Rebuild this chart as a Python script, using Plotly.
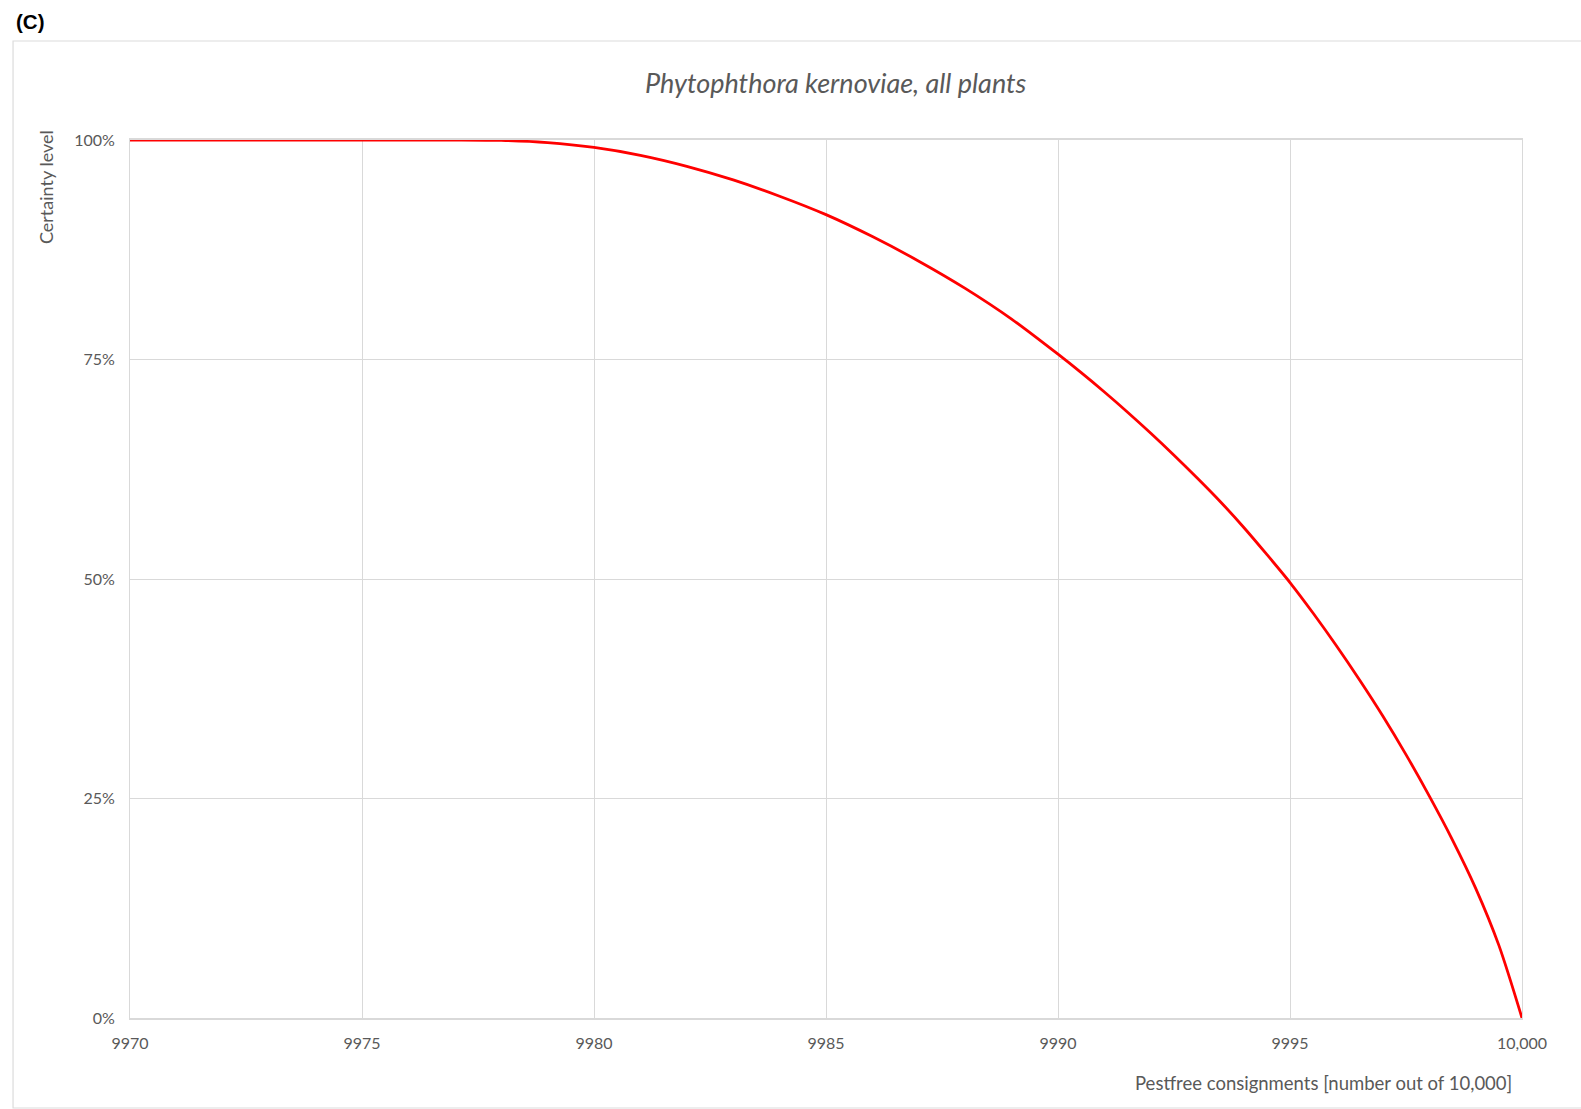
import plotly.graph_objects as go

# ---- data ----
consignments = [9970, 9971, 9972, 9973, 9974, 9975, 9976, 9977, 9978, 9979,
                9980, 9981, 9982, 9983, 9984, 9985, 9986, 9987, 9988, 9989,
                9990, 9990.5, 9991, 9991.5, 9992, 9992.5, 9993, 9993.5, 9994, 9994.5,
                9995, 9995.5, 9996, 9996.5, 9997, 9997.5, 9998, 9998.5, 9999, 9999.5,
                10000]
certainty = [100.0, 100.0, 100.0, 100.0, 100.0, 100.0, 100.0, 100.0, 99.95, 99.7,
             99.15, 98.25, 97.0, 95.45, 93.6, 91.5, 89.0, 86.2, 83.1, 79.6,
             75.6, 73.5, 71.3, 69.0, 66.6, 64.1, 61.5, 58.8, 55.9, 52.8,
             49.6, 46.1, 42.4, 38.5, 34.4, 30.0, 25.3, 20.3, 14.8, 8.3,
             0.0]

x_tickvals = [9970, 9975, 9980, 9985, 9990, 9995, 10000]
x_ticktext = ["9970", "9975", "9980", "9985", "9990", "9995", "10,000"]
y_tickvals = [0, 25, 50, 75, 100]
y_ticktext = ["0%", "25%", "50%", "75%", "100%"]

title_text = "Phytophthora kernoviae, all plants"
x_title = "Pestfree consignments [number out of 10,000]"
y_title = "Certainty level"
panel_label = "(C)"

# ---- layout constants ----
W, H = 1581, 1109
L, R, T, B = 130, 1522.5, 140, 1018
PW, PH = R - L, B - T


def px(x):
    return (x - L) / PW


def py(y):
    return 1 - (y - T) / PH


TXT = "#595959"
GRID = "#d9d9d9"
FONT = "Lato, 'Open Sans', sans-serif"

fig = go.Figure()
fig.add_trace(go.Scatter(
    x=consignments, y=certainty, mode="lines",
    line=dict(color="#ff0000", width=2.8, shape="spline", smoothing=0.8),
    showlegend=False, hoverinfo="x+y",
))

fig.update_layout(
    width=W, height=H,
    margin=dict(l=L, r=W - R, t=T, b=H - B, pad=0),
    paper_bgcolor="white", plot_bgcolor="white",
    font=dict(family=FONT, color=TXT, size=16),
    xaxis=dict(range=[9970, 10000], tickvals=x_tickvals, ticktext=x_ticktext,
               showgrid=True, gridcolor=GRID, gridwidth=1, zeroline=False,
               showline=True, linecolor=GRID, linewidth=1.5, mirror=True,
               ticks="", ticklabelstandoff=10,
               tickfont=dict(family=FONT, color=TXT, size=16)),
    yaxis=dict(range=[0, 100], tickvals=y_tickvals, ticktext=y_ticktext,
               showgrid=True, gridcolor=GRID, gridwidth=1, zeroline=False,
               showline=True, linecolor=GRID, linewidth=1, mirror=True,
               ticks="", ticklabelstandoff=11,
               tickfont=dict(family=FONT, color=TXT, size=16)),
)

# outer frame of the chart area
fig.add_shape(type="rect", xref="paper", yref="paper",
              x0=px(13), x1=px(1600), y0=py(1108), y1=py(41),
              line=dict(color="#dcdcdc", width=1.2), fillcolor="rgba(0,0,0,0)",
              layer="below")

# title
fig.add_annotation(xref="paper", yref="paper", x=px(836), y=py(83),
                   text="<i>" + title_text + "</i>", showarrow=False,
                   xanchor="center", yanchor="middle",
                   font=dict(family=FONT, color=TXT, size=27))
# y-axis title (top-aligned, rotated)
fig.add_annotation(xref="paper", yref="paper", x=px(46), y=py(128),
                   text=y_title, showarrow=False, textangle=-90,
                   xanchor="center", yanchor="top",
                   font=dict(family=FONT, color=TXT, size=18))
# x-axis title (right aligned)
fig.add_annotation(xref="paper", yref="paper", x=px(1514), y=py(1083),
                   text=x_title, showarrow=False,
                   xanchor="right", yanchor="middle",
                   font=dict(family=FONT, color=TXT, size=18.5))
# panel label
fig.add_annotation(xref="paper", yref="paper", x=px(14), y=py(21),
                   text="<b>" + panel_label + "</b>", showarrow=False,
                   xanchor="left", yanchor="middle",
                   font=dict(family="Liberation Sans, Arial, sans-serif",
                             color="#000000", size=20.5))

fig.write_html("out.html",
               config={"displayModeBar": False},
               post_script="document.body.style.margin='0';"
                           "document.body.style.padding='0';")
